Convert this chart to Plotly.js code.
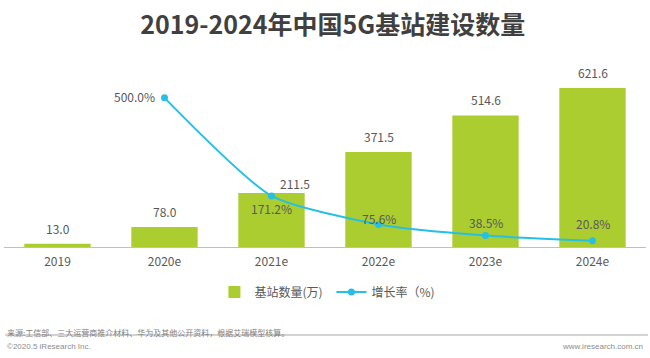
<!DOCTYPE html>
<html>
<head>
<meta charset="utf-8">
<script src="https://cdn.plot.ly/plotly-3.0.1.min.js"></script>
<style>html,body{margin:0;padding:0;background:#fff;}#chart{width:650px;height:358px;}</style>
</head>
<body>
<div id="chart"></div>
<script>
var categories = ["2019", "2020e", "2021e", "2022e", "2023e", "2024e"];
var stations = [13.0, 78.0, 211.5, 371.5, 514.6, 621.6];
var rateCategories = ["2020e", "2021e", "2022e", "2023e", "2024e"];
var growthRate = [500.0, 171.2, 75.6, 38.5, 20.8];

// label placement (style only)
var barLabelShift = [[0, 5], [0, 5], [23, -1], [0, 5], [0, 5], [0, 5]];
var rateLabelStyle = [
  {xanchor: 'right', yanchor: 'middle', xshift: -8, yshift: 1},
  {xanchor: 'center', yanchor: 'middle', xshift: 0, yshift: -13},
  {xanchor: 'center', yanchor: 'middle', xshift: 0, yshift: 6},
  {xanchor: 'center', yanchor: 'middle', xshift: 0, yshift: 13},
  {xanchor: 'center', yanchor: 'middle', xshift: 0, yshift: 17}
];

var FONT = '"Noto Sans CJK SC", "Noto Sans", sans-serif';
var TXT = '#595959';

var barTrace = {
  type: 'bar', name: '基站数量(万)', x: categories, y: stations,
  marker: {color: '#abcd30'}, hoverinfo: 'x+y'
};
var lineTrace = {
  type: 'scatter', mode: 'lines+markers', name: '增长率（%)',
  x: rateCategories, y: growthRate, yaxis: 'y2',
  line: {color: '#25c0e6', width: 2, shape: 'spline', smoothing: 0.6},
  marker: {color: '#25c0e6', size: 7},
  cliponaxis: false
};

var annotations = categories.map(function(c, i){
  return {x: i, y: stations[i], xref: 'x', yref: 'y', text: stations[i].toFixed(1),
    showarrow: false, xanchor: 'center', yanchor: 'bottom',
    xshift: barLabelShift[i][0], yshift: barLabelShift[i][1],
    font: {family: FONT, size: 12, color: TXT}};
});
rateCategories.forEach(function(c, i){
  var s = rateLabelStyle[i];
  annotations.push({x: categories.indexOf(c), y: growthRate[i], xref: 'x', yref: 'y2',
    text: growthRate[i].toFixed(1) + '%', showarrow: false,
    xanchor: s.xanchor, yanchor: s.yanchor, xshift: s.xshift, yshift: s.yshift,
    font: {family: FONT, size: 12, color: TXT}});
});
annotations.push({xref: 'paper', yref: 'paper', x: 0.0016, y: -0.475, xanchor: 'left', yanchor: 'middle',
  text: '来源:工信部、三大运营商推介材料、华为及其他公开资料，根据艾瑞模型核算。', showarrow: false,
  font: {family: FONT, size: 8, color: '#7f7f7f'}});
annotations.push({xref: 'paper', yref: 'paper', x: 0.0016, y: -0.555, xanchor: 'left', yanchor: 'middle',
  text: '©2020.5 iResearch Inc.', showarrow: false,
  font: {family: '"Liberation Sans", Arial, sans-serif', size: 8, color: '#8c8c8c'}});
annotations.push({xref: 'paper', yref: 'paper', x: 0.9984, y: -0.555, xanchor: 'right', yanchor: 'middle',
  text: 'www.iresearch.com.cn', showarrow: false,
  font: {family: '"Liberation Sans", Arial, sans-serif', size: 8, color: '#8c8c8c'}});

var layout = {
  width: 650, height: 358,
  margin: {l: 4, r: 4, t: 68, b: 111},
  paper_bgcolor: '#ffffff', plot_bgcolor: '#ffffff',
  title: {text: '<b>2019-2024年中国5G基站建设数量</b>', x: 0.512, xanchor: 'center', y: 0.93, yref: 'container', yanchor: 'middle',
    font: {family: FONT, size: 25, color: '#404040'}},
  bargap: 0.38,
  showlegend: true,
  legend: {orientation: 'h', x: 0.51, xanchor: 'center', y: -0.251, yanchor: 'middle',
    font: {family: FONT, size: 12, color: TXT}, itemwidth: 30, entrywidth: 72, bgcolor: 'rgba(0,0,0,0)'},
  xaxis: {type: 'category', categoryarray: categories, categoryorder: 'array', range: [-0.5, 5.5], autorange: false,
    showline: true, linecolor: '#bfbfbf', linewidth: 1, ticks: '', showgrid: false, ticklabelstandoff: 4,
    tickfont: {family: FONT, size: 12, color: TXT}},
  yaxis: {range: [0, 700], visible: false, showgrid: false, zeroline: false},
  yaxis2: {range: [0, 600], overlaying: 'y', visible: false, showgrid: false, zeroline: false},
  annotations: annotations,
  shapes: [{type: 'line', xref: 'paper', yref: 'paper', x0: 0.0016, x1: 1.003, y0: -0.4916, y1: -0.4916,
    line: {color: '#a6a6a6', width: 1}}]
};

Plotly.newPlot('chart', [barTrace, lineTrace], layout, {displayModeBar: false, staticPlot: true});
</script>
</body>
</html>
